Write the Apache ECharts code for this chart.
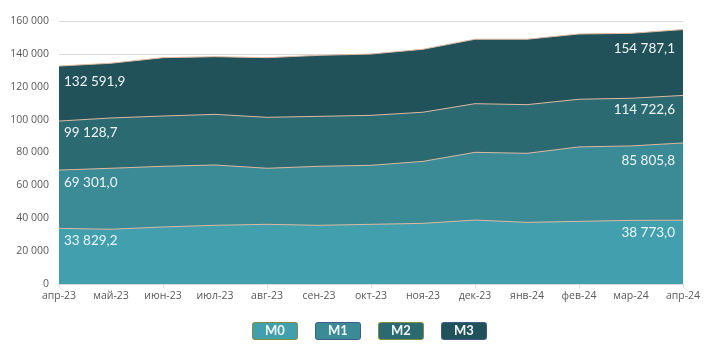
<!DOCTYPE html>
<html>
<head>
<meta charset="utf-8">
<script src="https://cdn.jsdelivr.net/npm/echarts@6/dist/echarts.min.js"></script>
<style>html,body{margin:0;padding:0;background:#fff;}#c{width:712px;height:348px;}</style>
</head>
<body>
<div id="c"></div>
<script>
var categories = ['апр-23','май-23','июн-23','июл-23','авг-23','сен-23','окт-23','ноя-23','дек-23','янв-24','фев-24','мар-24','апр-24'];
var m0 = [33829.2, 33300, 34700, 35700, 36300, 35700, 36300, 36900, 38900, 37500, 38100, 38700, 38773.0];
var m1 = [69301.0, 70400, 71600, 72400, 70400, 71600, 72200, 74600, 80100, 79500, 83400, 84000, 85805.8];
var m2 = [99128.7, 101000, 102200, 103200, 101400, 102000, 102600, 104500, 109700, 109100, 112400, 113000, 114722.6];
var m3 = [132591.9, 134300, 137700, 138300, 137700, 139100, 139900, 142800, 148900, 148900, 152100, 152500, 154787.1];
var seriesNames = ['M0','M1','M2','M3'];
var yTicks = [0, 20000, 40000, 60000, 80000, 100000, 120000, 140000, 160000];

var colors = {M0:'#42A0AE', M1:'#3B8B96', M2:'#2C6A72', M3:'#225259'};
var legendBorders = {M0:'#7E8F3C', M1:'#3D5E8C', M2:'#7E8F3C', M3:'#3D5E8C'};
var edgeColor = '#DDB9A0';

function fmt(v, dec) {
  var s = dec ? v.toFixed(1) : String(Math.round(v));
  var parts = s.split('.');
  var ip = parts[0].replace(/\B(?=(\d{3})+(?!\d))/g, ' ');
  return parts.length > 1 ? ip + ',' + parts[1] : ip;
}

var labelOffsets = {
  M0: [[5, 3], [-8, 3]],
  M1: [[5, 3], [-8, 8]],
  M2: [[5, 2], [-8, 5]],
  M3: [[5, 6], [-8, 10]]
};

function buildData(name, arr) {
  return arr.map(function (v, i) {
    if (i === 0 || i === arr.length - 1) {
      var first = i === 0;
      var off = labelOffsets[name][first ? 0 : 1];
      return {
        value: v,
        label: {
          show: true,
          position: 'bottom',
          distance: 2,
          align: first ? 'left' : 'right',
          offset: off,
          formatter: function (p) { return fmt(p.value, true); },
          color: '#EEF4F5',
          fontFamily: 'Lato',
          fontSize: 13.5
        }
      };
    }
    return v;
  });
}

var dataMap = {M0: m0, M1: m1, M2: m2, M3: m3};
var drawOrder = ['M3','M2','M1','M0'];
var series = drawOrder.map(function (name) {
  return {
    name: name,
    type: 'line',
    data: buildData(name, dataMap[name]),
    symbol: 'circle',
    symbolSize: 1,
    showSymbol: true,
    itemStyle: {color: 'rgba(0,0,0,0)', borderWidth: 0},
    lineStyle: {color: edgeColor, width: 1},
    areaStyle: {color: colors[name], opacity: 1},
    emphasis: {disabled: true},
    silent: true,
    animation: false,
    z: 2
  };
});

var legendData = seriesNames.map(function (name) {
  return {
    name: name,
    icon: 'none',
    textStyle: {
      rich: {
        b: {
          color: '#F2F6F7',
          fontFamily: 'Lato',
          fontWeight: 'bold',
          fontSize: 13,
          backgroundColor: colors[name],
          borderColor: legendBorders[name],
          borderWidth: 1,
          borderRadius: 2,
          width: 44,
          height: 16,
          lineHeight: 16,
          align: 'center'
        }
      }
    }
  };
});

var chart = echarts.init(document.getElementById('c'), null, {renderer: 'canvas'});
chart.setOption({
  animation: false,
  color: seriesNames.map(function (n) { return colors[n]; }),
  grid: {left: 59, right: 29, top: 21, bottom: 64, containLabel: false},
  legend: {
    data: legendData,
    bottom: 3,
    left: 243,
    itemWidth: 0,
    itemHeight: 14,
    itemGap: 13,
    selectedMode: false,
    formatter: function (n) { return '{b|' + n + '}'; }
  },
  xAxis: {
    type: 'category',
    data: categories,
    boundaryGap: false,
    axisLine: {lineStyle: {color: '#D9D9D9'}},
    axisTick: {show: true, interval: 1, length: 4, lineStyle: {color: '#D9D9D9'}},
    axisLabel: {interval: 0, color: '#595959', fontFamily: 'Open Sans', fontSize: 10.5, margin: 7}
  },
  yAxis: {
    type: 'value',
    min: 0,
    max: 160000,
    interval: 20000,
    axisLine: {show: false},
    axisTick: {show: false},
    splitLine: {lineStyle: {color: '#D9D9D9'}},
    axisLabel: {
      color: '#595959', fontFamily: 'Open Sans', fontSize: 10.5, margin: 10,
      formatter: function (v) { return yTicks.indexOf(v) >= 0 ? fmt(v, false) : ''; }
    }
  },
  series: series
});
</script>
</body>
</html>
